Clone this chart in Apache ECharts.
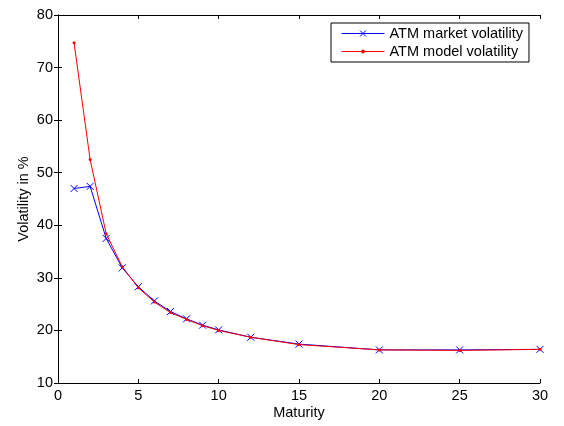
<!DOCTYPE html>
<html>
<head>
<meta charset="utf-8">
<script src="https://cdn.jsdelivr.net/npm/echarts@6/dist/echarts.min.js"></script>
<style>
  html, body { margin: 0; padding: 0; background: #fff; }
  #chart { width: 564px; height: 426px; }
</style>
</head>
<body>
<div id="chart"></div>
<script>
// Maturities (years) and ATM volatilities in percent
const maturities = [1, 2, 3, 4, 5, 6, 7, 8, 9, 10, 12, 15, 20, 25, 30];
const marketVol = [47.0, 47.4, 37.5, 31.9, 28.3, 25.6, 23.6, 22.2, 21.0, 20.1, 18.7, 17.4, 16.3, 16.3, 16.4];
const modelVol  = [74.7, 52.5, 38.4, 32.1, 28.1, 25.4, 23.4, 22.1, 20.9, 20.0, 18.7, 17.3, 16.3, 16.2, 16.4];
const xTicks = [0, 30, 5];   // min, max, step
const yTicks = [10, 80, 10]; // min, max, step

const font = 'Liberation Sans, Arial, Helvetica, sans-serif';
const pairs = (xs, ys) => xs.map((x, i) => [x, ys[i]]);

const axisLine = { show: true, lineStyle: { color: '#000', width: 1 } };
const tickIn = { show: true, inside: true, length: 4, lineStyle: { color: '#000' } };
const labelStyle = { color: '#000', fontFamily: font, fontSize: 14.5 };

// Point markers
const crossPath = 'path://M0,0L10,10M10,0L0,10';
// Legend keys: a line segment with the marker in its middle
const crossKey = 'path://M0,3L43,3M18.5,0L24.5,6M24.5,0L18.5,6';
const dotKey = 'path://M0,3L43,3M20,3A1.5,1.5 0 1,0 23,3A1.5,1.5 0 1,0 20,3Z';

const chart = echarts.init(document.getElementById('chart'), null, { renderer: 'canvas' });
chart.setOption({
  animation: false,
  backgroundColor: '#fff',
  grid: { left: 58, top: 15, right: 24, bottom: 43, containLabel: false },
  legend: {
    orient: 'vertical',
    left: 331, top: 23,
    padding: [3, 6, 3, 8],
    itemGap: 3,
    itemWidth: 43, itemHeight: 6,
    symbolKeepAspect: true,
    borderColor: '#000', borderWidth: 1,
    backgroundColor: '#fff',
    textStyle: { color: '#000', fontFamily: font, fontSize: 14.5 },
    data: [
      { name: 'ATM market volatility', icon: crossKey,
        itemStyle: { color: 'none', borderColor: '#0000ff', borderWidth: 1 } },
      { name: 'ATM model volatility', icon: dotKey,
        itemStyle: { color: '#ff0000', borderColor: '#ff0000', borderWidth: 1 } }
    ]
  },
  xAxis: [
    {
      type: 'value', min: xTicks[0], max: xTicks[1], interval: xTicks[2],
      name: 'Maturity', nameLocation: 'middle', nameGap: 22, nameMoveOverlap: false,
      nameTextStyle: labelStyle,
      axisLine, axisTick: tickIn, splitLine: { show: false },
      axisLabel: Object.assign({ margin: 5 }, labelStyle)
    },
    {
      type: 'value', position: 'top', min: xTicks[0], max: xTicks[1], interval: xTicks[2],
      axisLine, axisTick: tickIn, splitLine: { show: false }, axisLabel: { show: false }
    }
  ],
  yAxis: [
    {
      type: 'value', min: yTicks[0], max: yTicks[1], interval: yTicks[2],
      name: 'Volatility in %', nameLocation: 'middle', nameGap: 27, nameRotate: 90,
      nameMoveOverlap: false,
      nameTextStyle: labelStyle,
      axisLine, axisTick: tickIn, splitLine: { show: false },
      axisLabel: Object.assign({ margin: 5 }, labelStyle)
    },
    {
      type: 'value', position: 'right', min: yTicks[0], max: yTicks[1], interval: yTicks[2],
      axisLine, axisTick: tickIn, splitLine: { show: false }, axisLabel: { show: false }
    }
  ],
  series: [
    {
      name: 'ATM market volatility',
      type: 'line',
      data: pairs(maturities, marketVol),
      symbol: crossPath,
      symbolSize: 7,
      showAllSymbol: true,
      lineStyle: { color: '#0000ff', width: 1 },
      itemStyle: { color: '#0000ff', borderColor: '#0000ff', borderWidth: 1 },
      z: 2
    },
    {
      name: 'ATM model volatility',
      type: 'line',
      data: pairs(maturities, modelVol),
      symbol: 'circle',
      symbolSize: 3,
      showAllSymbol: true,
      lineStyle: { color: '#ff0000', width: 1 },
      itemStyle: { color: '#ff0000', borderWidth: 0 },
      z: 3
    }
  ]
});
</script>
</body>
</html>
